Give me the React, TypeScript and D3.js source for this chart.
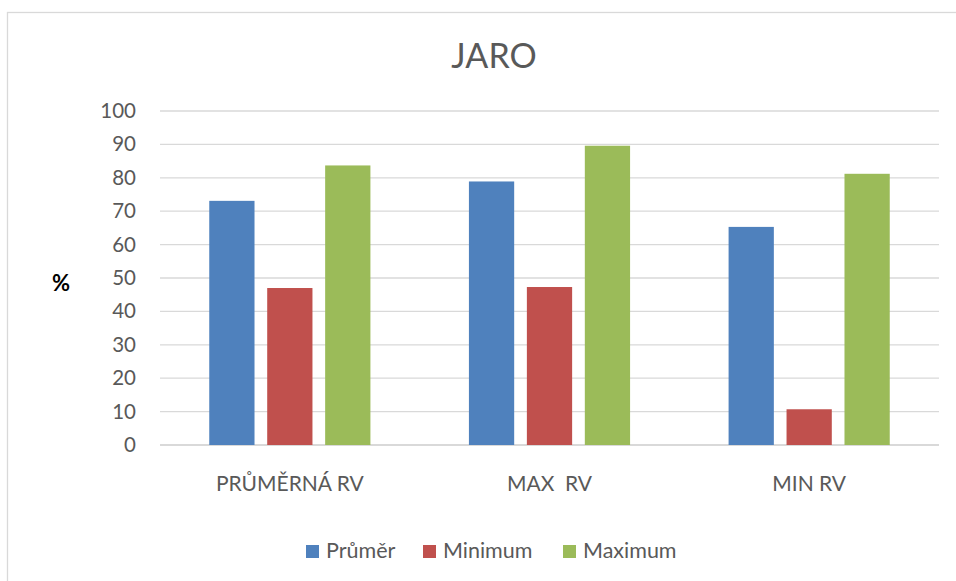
import React from "react";
import * as d3 from "d3";

const categories = ["PRŮMĚRNÁ RV", "MAX  RV", "MIN RV"];
const seriesNames = ["Průměr", "Minimum", "Maximum"];
const prumer = [73.1, 78.9, 65.3];
const minimum = [47.0, 47.3, 10.7];
const maximum = [83.7, 89.6, 81.2];
const yTicks = [0, 10, 20, 30, 40, 50, 60, 70, 80, 90, 100];
const colors = ["#4f81bd", "#c0504d", "#9bbb59"];

const W = 956;
const H = 581;
const plot = { left: 160, right: 939, top: 111, bottom: 445 };
const FONT = "Lato, 'Open Sans', sans-serif";

export default function App() {
  const values = [prumer, minimum, maximum];
  const x = d3.scaleBand<string>().domain(categories).range([plot.left, plot.right]);
  const inner = d3
    .scaleBand<string>()
    .domain(seriesNames)
    .range([0, x.bandwidth()])
    .paddingInner(0.219)
    .paddingOuter(0.85);
  const y = d3.scaleLinear().domain([0, 100]).range([plot.bottom, plot.top]);

  const legendX = [306, 423, 563];

  return (
    <svg
      width={W}
      height={H}
      style={{ position: "absolute", left: 0, top: 0, background: "#fff" }}
      fontFamily={FONT}
    >
      <rect x={7.5} y={12.5} width={W} height={H} fill="#fff" stroke="#d9d9d9" strokeWidth={1.3} />
      <text x={494} y={67.5} textAnchor="middle" fontSize={34} fill="#595959">
        JARO
      </text>

      {yTicks.map((t) => (
        <g key={t}>
          <line
            x1={plot.left}
            x2={plot.right}
            y1={y(t)}
            y2={y(t)}
            stroke="#d9d9d9"
            strokeWidth={t === 0 ? 2 : 1.3}
          />
          <text x={136} y={y(t) + 7} textAnchor="end" fontSize={20.5} fill="#595959">
            {t}
          </text>
        </g>
      ))}

      <text x={61} y={291} textAnchor="middle" fontSize={22} fontWeight="bold" fill="#000">
        %
      </text>

      {categories.map((c, ci) => (
        <g key={c}>
          {seriesNames.map((s, si) => {
            const v = values[si][ci];
            return (
              <rect
                key={s}
                x={(x(c) ?? 0) + (inner(s) ?? 0)}
                y={y(v)}
                width={inner.bandwidth()}
                height={y(0) - y(v)}
                fill={colors[si]}
              />
            );
          })}
          <text
            x={(x(c) ?? 0) + x.bandwidth() / 2}
            y={491}
            textAnchor="middle"
            fontSize={21}
            fill="#595959"
            style={{ whiteSpace: "pre" }}
          >
            {c}
          </text>
        </g>
      ))}

      {seriesNames.map((s, si) => (
        <g key={s}>
          <rect x={legendX[si]} y={545} width={13} height={13} fill={colors[si]} />
          <text x={legendX[si] + 20} y={558} fontSize={21.5} fill="#595959">
            {s}
          </text>
        </g>
      ))}
    </svg>
  );
}
